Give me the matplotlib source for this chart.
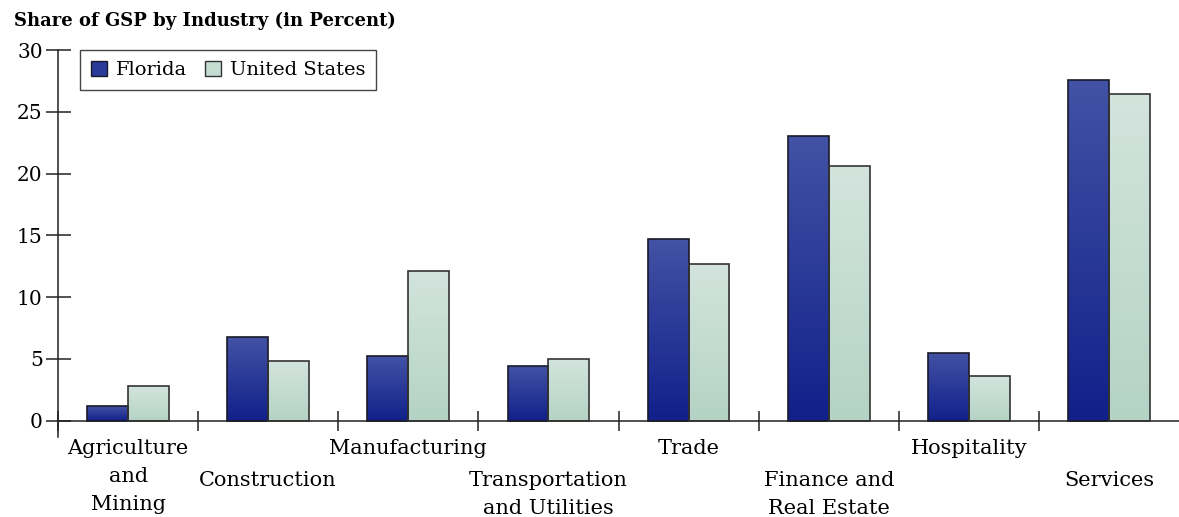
import numpy as np
import matplotlib.pyplot as plt
from matplotlib.colors import LinearSegmentedColormap
from matplotlib.patches import Patch

plt.rcParams['font.family'] = ['DejaVu Serif']

categories = ["Agriculture\nand\nMining", "Construction", "Manufacturing",
              "Transportation\nand Utilities", "Trade", "Finance and\nReal Estate",
              "Hospitality", "Services"]
florida = [1.2, 6.8, 5.2, 4.4, 14.7, 23.0, 5.45, 27.55]
us = [2.8, 4.8, 12.1, 4.95, 12.7, 20.6, 3.6, 26.4]

fl_cmap = LinearSegmentedColormap.from_list('fl', ['#11208a', '#4252a4'])
us_cmap = LinearSegmentedColormap.from_list('us', ['#b4d3c5', '#d3e4dd'])

fig = plt.figure(figsize=(11.79, 5.17), dpi=100)
ax = fig.add_axes([58/1179, 80/517, 1121/1179, 387/517])

x = np.arange(len(categories))
w = 0.292

def grad_bars(xs, vals, cmap, edge):
    bars = ax.bar(xs, vals, width=w, facecolor='none', edgecolor=edge,
                  linewidth=1.2, zorder=3)
    grad = np.linspace(0, 1, 256).reshape(-1, 1)
    for b in bars:
        x0 = b.get_x()
        ax.imshow(grad, extent=[x0, x0 + b.get_width(), 0, b.get_height()],
                  origin='lower', cmap=cmap, aspect='auto', zorder=2)
    return bars

grad_bars(x - w/2, florida, fl_cmap, '#1a1a2a')
grad_bars(x + w/2, us, us_cmap, '#333333')

ax.set_xlim(-0.5, 7.5)
ax.set_ylim(-1.336, 30)
ax.set_yticks([0, 5, 10, 15, 20, 25, 30])
ax.tick_params(axis='y', direction='inout', length=18, width=1.1, labelsize=14.5,
               pad=2, color='#222222')
ax.set_xticks(np.arange(-0.5, 7, 1))
ax.set_xticklabels([])
ax.tick_params(axis='x', which='major', direction='inout', length=14, width=1.1,
               color='#222222')

# staggered category labels (px below the zero line)
for i, name in enumerate(categories):
    off = 18 if i % 2 == 0 else 50
    ax.annotate(name, (i, 0), xytext=(0, -off * 0.72), textcoords='offset points',
                ha='center', va='top', fontsize=15, linespacing=1.6,
                annotation_clip=False)

for s in ['top', 'right']:
    ax.spines[s].set_visible(False)
ax.spines['bottom'].set_position(('data', 0))
for s in ['left', 'bottom']:
    ax.spines[s].set_linewidth(1.1)
    ax.spines[s].set_color('#222222')

handles = [Patch(facecolor='#2a3a98', edgecolor='#1a1a2a', linewidth=1),
           Patch(facecolor='#c4dcd2', edgecolor='#333333', linewidth=1)]
leg = ax.legend(handles, ['Florida', 'United States'], ncol=2, loc='upper left',
                bbox_to_anchor=(22/1121, 1.0), borderaxespad=0, fontsize=14,
                handlelength=0.85, handleheight=0.85, handletextpad=0.45,
                columnspacing=0.9, fancybox=False, framealpha=1,
                borderpad=0.55)
leg.get_frame().set_edgecolor('#444444')
leg.get_frame().set_linewidth(1)

fig.text(14/1179, 1 - 21/517, 'Share of GSP by Industry (in Percent)',
         fontsize=13, fontweight='bold', va='center', ha='left')

fig.savefig('out.png', dpi=100)
